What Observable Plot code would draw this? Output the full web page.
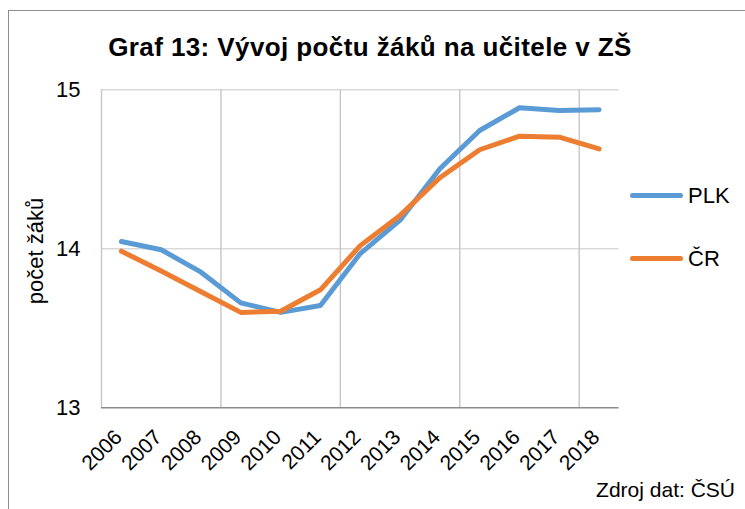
<!DOCTYPE html>
<html>
<head>
<meta charset="utf-8">
<script src="https://cdn.jsdelivr.net/npm/d3@7"></script>
<script src="https://cdn.jsdelivr.net/npm/@observablehq/plot@0.6"></script>
<style>
  body { margin: 0; background: #fff; font-family: "Liberation Sans", Arial, sans-serif; }
  #wrap { position: relative; width: 745px; height: 509px; overflow: hidden; background: #fff; }
  #frame { position: absolute; left: 8px; top: 10px; width: 800px; height: 600px; border: 1.5px solid #8e8e8e; box-sizing: border-box; }
  #chart { position: absolute; left: 0; top: 0; }
  #title { position: absolute; left: 0; width: 740px; top: 34px; text-align: center; font-weight: bold; font-size: 26px; letter-spacing: 0.4px; line-height: 26px; color: #000; white-space: nowrap; }
  #ylabel { position: absolute; left: -64px; width: 200px; top: 240px; height: 22px; text-align: center; font-size: 22px; line-height: 22px; color: #000; white-space: nowrap; transform: rotate(-90deg); transform-origin: 100px 11px; }
  #caption { position: absolute; right: 10px; top: 479px; font-size: 21px; line-height: 21px; color: #000; white-space: nowrap; }
  .lg-line { position: absolute; height: 5px; border-radius: 2.5px; }
  .lg-text { position: absolute; font-size: 22px; line-height: 22px; color: #000; white-space: nowrap; }
</style>
</head>
<body>
<div id="wrap">
  <div id="frame"></div>
  <div id="chart"></div>
  <div id="title"></div>
  <div id="ylabel"></div>
  <div id="caption"></div>
</div>
<script>
// ---- data ----
const titleText = "Graf 13: Vývoj počtu žáků na učitele v ZŠ";
const yLabel = "počet žáků";
const captionText = "Zdroj dat: ČSÚ";
const years = [2006, 2007, 2008, 2009, 2010, 2011, 2012, 2013, 2014, 2015, 2016, 2017, 2018];
const seriesNames = ["PLK", "ČR"];
const plkValues = [14.046, 13.994, 13.853, 13.66, 13.60, 13.643, 13.97, 14.18, 14.503, 14.744, 14.887, 14.87, 14.874];
const crValues  = [13.985, 13.86, 13.73, 13.60, 13.607, 13.742, 14.02, 14.21, 14.447, 14.623, 14.708, 14.702, 14.628];
const yTicks = [13, 14, 15];
const seriesColors = ["#5B9BD5", "#ED7D31"];

// ---- derived ----
const plk = years.map((yr, i) => ({year: yr, value: plkValues[i]}));
const cr = years.map((yr, i) => ({year: yr, value: crValues[i]}));
// category boundaries: left edge and every third boundary (Excel-style gridlines)
const vGrid = [years[0] - 0.5].concat(years.filter((y, i) => i % 3 === 2 && i < years.length - 1).map(y => y + 0.5));

const font = '"Liberation Sans", Arial, sans-serif';

const chart = Plot.plot({
  width: 745,
  height: 509,
  marginLeft: 101,
  marginRight: 126.5,
  marginTop: 89.3,
  marginBottom: 101.7,
  style: {fontFamily: font, fontSize: "21px", color: "#000", background: "transparent"},
  x: {domain: [years[0] - 0.5, years[years.length - 1] + 0.5]},
  y: {domain: [yTicks[0], yTicks[yTicks.length - 1]]},
  marks: [
    Plot.ruleY(yTicks.slice(1), {stroke: "#d9d9d9", strokeWidth: 1.4}),
    Plot.ruleX(vGrid, {stroke: "#c6c6c6", strokeWidth: 1.4}),
    Plot.ruleY([yTicks[0]], {stroke: "#8a8a8a", strokeWidth: 1.6}),
    Plot.line(plk, {x: "year", y: "value", stroke: seriesColors[0], strokeWidth: 5, strokeLinejoin: "round", strokeLinecap: "round"}),
    Plot.line(cr, {x: "year", y: "value", stroke: seriesColors[1], strokeWidth: 5, strokeLinejoin: "round", strokeLinecap: "round"}),
    Plot.axisY({ticks: yTicks, tickSize: 0, tickPadding: 21, fontSize: 22, label: null, tickFormat: d => String(d)}),
    Plot.axisX({ticks: years, tickSize: 0, tickPadding: 26, tickRotate: -45, fontSize: 21, label: null, tickFormat: d => String(d), dx: -3})
  ]
});
document.getElementById("chart").appendChild(chart);

document.getElementById("title").textContent = titleText;
document.getElementById("ylabel").textContent = yLabel;
document.getElementById("caption").textContent = captionText;

// legend (HTML, right of plot)
const wrap = document.getElementById("wrap");
const legendTops = [195, 258];
seriesNames.forEach((name, i) => {
  const ln = document.createElement("div");
  ln.className = "lg-line";
  ln.style.left = "630px";
  ln.style.width = "53px";
  ln.style.top = (legendTops[i] - 2.5) + "px";
  ln.style.background = seriesColors[i];
  wrap.appendChild(ln);
  const tx = document.createElement("div");
  tx.className = "lg-text";
  tx.style.left = "688px";
  tx.style.top = (legendTops[i] - 10) + "px";
  tx.textContent = name;
  wrap.appendChild(tx);
});
</script>
</body>
</html>
